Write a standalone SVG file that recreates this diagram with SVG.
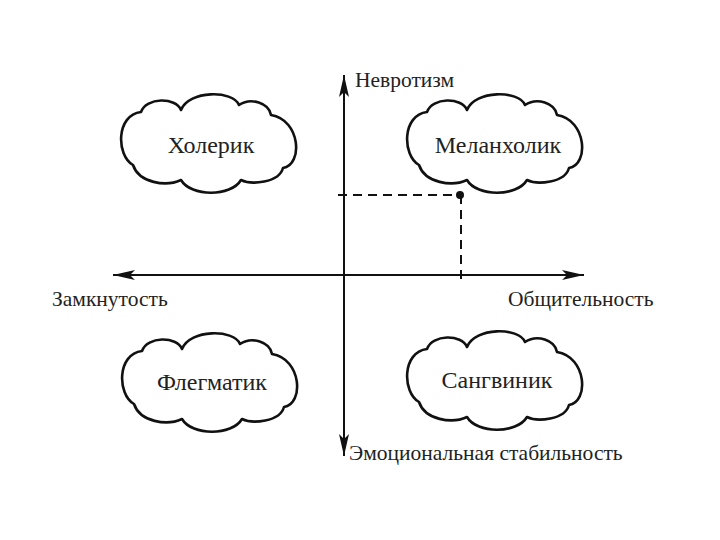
<svg xmlns="http://www.w3.org/2000/svg" width="720" height="540" viewBox="0 0 720 540">
<style>
.cloud{fill:#fff;stroke:#111;stroke-width:2.6;stroke-linejoin:round}
.axis{stroke:#111;stroke-width:2;fill:none}
.dash{stroke:#111;stroke-width:2;fill:none;stroke-dasharray:9 6}
.lbl{font-family:"Liberation Serif","Times New Roman",serif;font-size:21.5px;fill:#222}
.nm{font-family:"Liberation Serif","Times New Roman",serif;font-size:24px;fill:#222;text-anchor:middle}
</style>
<defs>
<path id="cl" d="M -78,20 C -95,10 -95,-30 -70,-33 C -65,-48 -35,-48 -30,-35 C -22,-55 22,-55 28,-40 C 40,-48 58,-42 60,-30 C 90,-25 92,20 72,23 C 68,38 40,40 30,35 C 20,52 -20,52 -30,35 C -45,42 -72,38 -78,20 Z"/>
<marker id="ah" viewBox="0 0 22 10" markerUnits="userSpaceOnUse" markerWidth="22" markerHeight="10" refX="22" refY="5" orient="auto">
<path d="M0,0 L22,5 L0,10 L5,5 Z" fill="#111"/>
</marker>
</defs>
<rect width="720" height="540" fill="#fff"/>
<g id="connectors">
<path class="axis" d="M344,275 L344,75" marker-end="url(#ah)"/>
<path class="axis" d="M344,275 L344,456" marker-end="url(#ah)"/>
<path class="axis" d="M344,275 L113,275" marker-end="url(#ah)"/>
<path class="axis" d="M344,275 L584,275" marker-end="url(#ah)"/>
<path class="dash" d="M338,195 L460,195"/>
<path class="dash" d="M461,195 L461,283"/>
<circle cx="460" cy="195" r="4" fill="#111"/>
</g>
<g id="cholerik"><use href="#cl" class="cloud" transform="translate(211,145)"/><text class="nm" x="211" y="153">Холерик</text></g>
<g id="melancholik"><use href="#cl" class="cloud" transform="translate(497,145)"/><text class="nm" x="498" y="153">Меланхолик</text></g>
<g id="flegmatik"><use href="#cl" class="cloud" transform="translate(212,384)"/><text class="nm" x="212" y="390">Флегматик</text></g>
<g id="sangvinik"><use href="#cl" class="cloud" transform="translate(497,382)"/><text class="nm" x="497" y="388">Сангвиник</text></g>
<g id="labels">
<text class="lbl" x="355" y="87">Невротизм</text>
<text class="lbl" x="52" y="306">Замкнутость</text>
<text class="lbl" x="508" y="306">Общительность</text>
<text class="lbl" x="349" y="460">Эмоциональная стабильность</text>
</g>
</svg>
